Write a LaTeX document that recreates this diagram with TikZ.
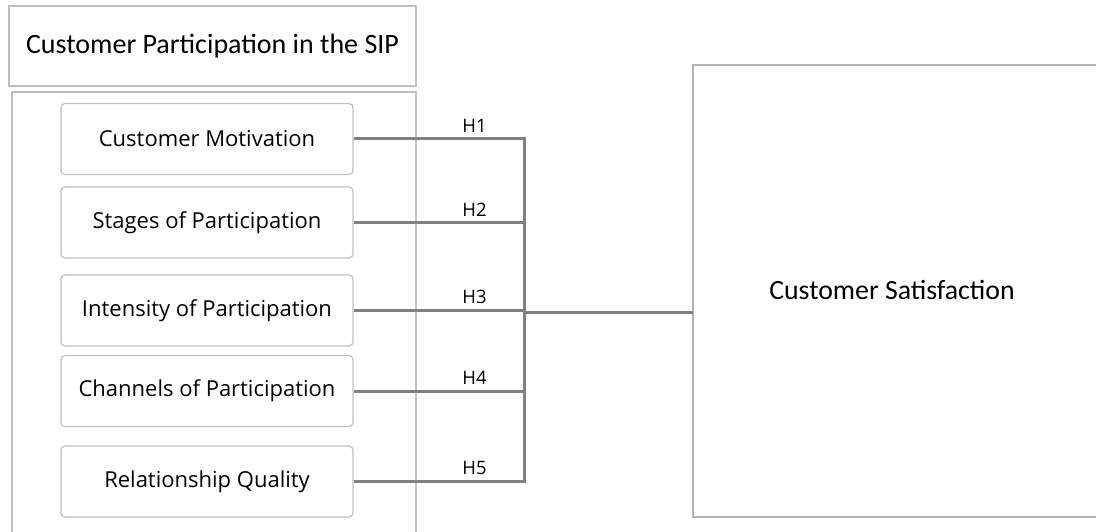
\documentclass[tikz,border=0pt]{standalone}
\usepackage{fontspec}
\setmainfont{Carlito}
\newfontfamily\segfont{Open Sans}
\begin{document}
\begin{tikzpicture}[x=1pt,y=-1pt,
  lightbox/.style={draw=black!25,line width=1.2pt},
  itembox/.style={draw=black!25,line width=1.2pt,rounded corners=4pt,minimum width=292pt,minimum height=71pt,inner sep=0pt,font=\segfont\fontsize{22}{24}\selectfont},
  conn/.style={draw=black!50,line width=3pt},
  hlab/.style={font=\segfont\fontsize{18.5}{20}\selectfont,anchor=south,inner sep=5pt}]
\useasboundingbox (0,0) rectangle (1096,532);
\node[lightbox,minimum width=407pt,minimum height=80pt,inner sep=0pt,font=\fontsize{28}{32}\selectfont] (title) at (212.5,46) {Customer Participation in the SIP};
\draw[lightbox] (12,540) -- (12,92) -- (416,92) -- (416,540);
\node[itembox] (b1) at (207,139) {Customer Motivation};
\node[itembox] (b2) at (207,222.5) {Stages of Participation};
\node[itembox] (b3) at (207,310.5) {Intensity of Participation};
\node[itembox] (b4) at (207,391) {Channels of Participation};
\node[itembox] (b5) at (207,481.5) {Relationship Quality};
\node[draw=black!30,line width=1.5pt,minimum width=420pt,minimum height=452pt,inner sep=0pt] (sat) at (903,291) {};
\node[font=\fontsize{27.8}{30}\selectfont] (sattext) at (892,290) {Customer Satisfaction};
\coordinate (jx) at (524,0);
\coordinate (satin) at (693,312);
\foreach \i/\h in {1/H1,2/H2,3/H3,4/H4,5/H5}{
  \draw[conn] (b\i.east) -- (b\i.east -| jx) node[hlab,pos=0.71] {\h};
}
\draw[conn,line cap=rect] (b1.east -| jx) -- (b5.east -| jx);
\draw[conn] (jx |- satin) -- (satin);
\end{tikzpicture}
\end{document}
